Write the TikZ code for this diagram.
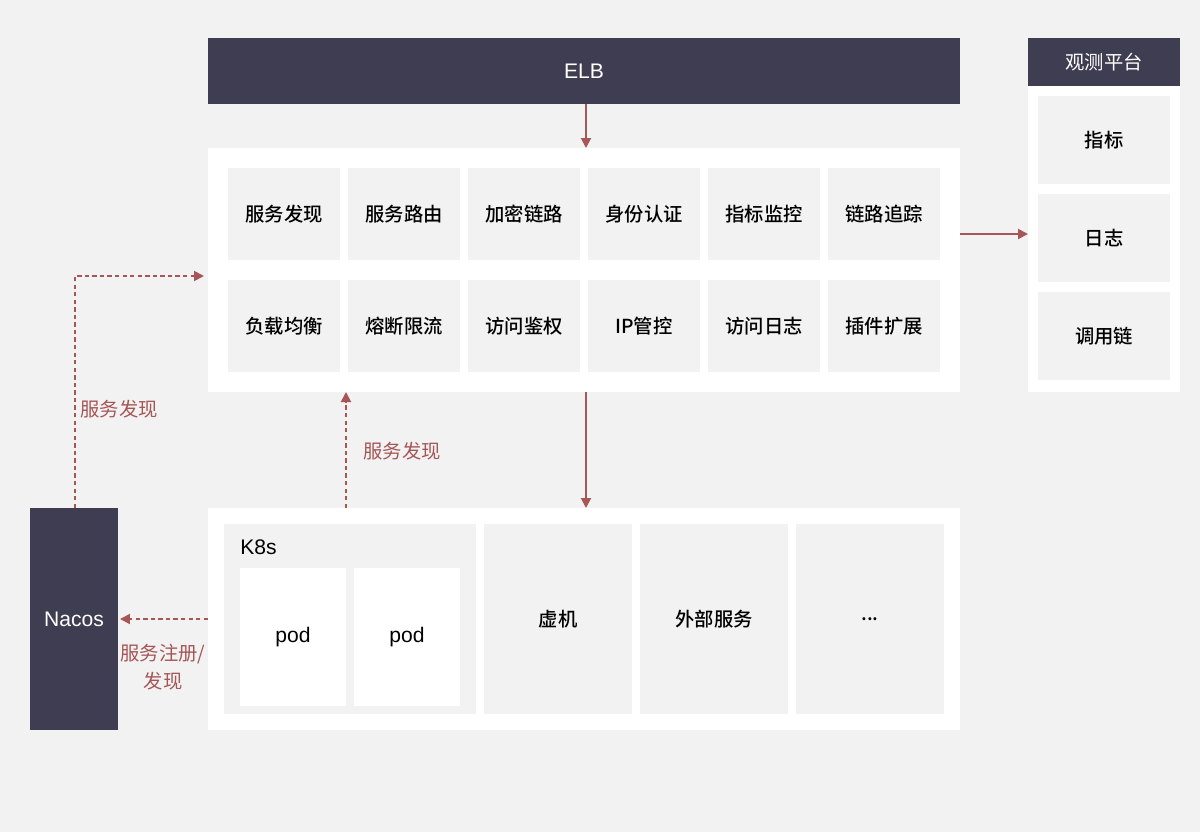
\documentclass[tikz,border=0pt]{standalone}
\usepackage{fontspec}
\setmainfont{Noto Sans CJK SC}[BoldFont={Noto Sans CJK SC Medium}]
\newfontfamily\latinfont{Liberation Sans}
\usetikzlibrary{calc,arrows.meta}
\definecolor{navy}{HTML}{3F3D51}
\definecolor{bggray}{HTML}{F2F2F2}
\definecolor{rust}{HTML}{A65656}
\def\px{0.02cm}

\begin{document}
\begin{tikzpicture}[x=\px,y=-\px,
  box/.style={inner sep=0pt,outer sep=0pt,minimum width=#1},
  white/.style={fill=white},
  dark/.style={fill=navy,text=white,font=\fontsize{11}{13}\selectfont},
  cell/.style={fill=bggray,text=black,font=\fontsize{11}{13}\selectfont\bfseries},
  latin/.style={font=\latinfont\fontsize{12}{14}\selectfont},
  lbl/.style={text=rust,font=\fontsize{11}{16}\selectfont,inner sep=0pt},
  solidarrow/.style={draw=rust,line width=1.1pt,-{Triangle[length=2mm,width=2mm]}},
  dasharrow/.style={draw=rust,line width=1.1pt,dash pattern=on 2.5pt off 1.8pt,-{Triangle[length=2mm,width=2mm]}}]

\fill[bggray] (0,0) rectangle (1200,832);
\useasboundingbox (0,0) rectangle (1200,832);

% gateway
\node[box=752*\px,minimum height=66*\px,dark,latin] (elb) at (584,71) {ELB};
\node[box=752*\px,minimum height=244*\px,white] (gw) at (584,270) {};

\node[box=112*\px,minimum height=92*\px,cell] (c11) at (284,214) {服务发现};
\node[box=112*\px,minimum height=92*\px,cell] (c12) at (404,214) {服务路由};
\node[box=112*\px,minimum height=92*\px,cell] (c13) at (524,214) {加密链路};
\node[box=112*\px,minimum height=92*\px,cell] (c14) at (644,214) {身份认证};
\node[box=112*\px,minimum height=92*\px,cell] (c15) at (764,214) {指标监控};
\node[box=112*\px,minimum height=92*\px,cell] (c16) at (884,214) {链路追踪};
\node[box=112*\px,minimum height=92*\px,cell] (c21) at (284,326) {负载均衡};
\node[box=112*\px,minimum height=92*\px,cell] (c22) at (404,326) {熔断限流};
\node[box=112*\px,minimum height=92*\px,cell] (c23) at (524,326) {访问鉴权};
\node[box=112*\px,minimum height=92*\px,cell] (c24) at (644,326) {IP管控};
\node[box=112*\px,minimum height=92*\px,cell] (c25) at (764,326) {访问日志};
\node[box=112*\px,minimum height=92*\px,cell] (c26) at (884,326) {插件扩展};

% backends
\node[box=752*\px,minimum height=222*\px,white] (back) at (584,619) {};
\node[box=252*\px,minimum height=190*\px,fill=bggray] (k8s) at (350,619) {};
\node[anchor=west,inner sep=0pt,latin] (k8slbl) at (240,547) {K8s};
\node[box=106*\px,minimum height=138*\px,white,latin] (pod1) at (293,637) {pod};
\node[box=106*\px,minimum height=138*\px,white,latin] (pod2) at (407,637) {pod};
\node[box=148*\px,minimum height=190*\px,cell] (vm) at (558,619) {虚机};
\node[box=148*\px,minimum height=190*\px,cell] (ext) at (714,619) {外部服务};
\node[box=148*\px,minimum height=190*\px,cell] (more) at (870,619) {...};

\node[box=88*\px,minimum height=222*\px,dark,latin] (nacos) at (74,619) {Nacos};

% observability
\node[box=152*\px,minimum height=48*\px,dark] (obshead) at (1104,62) {观测平台};
\node[box=152*\px,minimum height=306*\px,white] (obs) at (1104,239) {};
\node[box=132*\px,minimum height=88*\px,cell] (metric) at (1104,140) {指标};
\node[box=132*\px,minimum height=88*\px,cell] (log) at (1104,238) {日志};
\node[box=132*\px,minimum height=88*\px,cell] (trace) at (1104,336) {调用链};

% arrows
\draw[solidarrow] ($(elb.south)+(2,0)$) -- ($(gw.north)+(2,0)$);
\draw[solidarrow] ($(gw.south)+(2,0)$) -- ($(back.north)+(2,0)$);
\draw[solidarrow] ($(gw.east |- log)+(0,-4)$) -- ($(obs.west |- log)+(0,-4)$);

\draw[dasharrow,shorten >=4*\px] ($(nacos.north)+(1,0)$) |- ($(gw.west)+(0,6)$);
\draw[dasharrow] (pod1.east |- back.north) -- (pod1.east |- gw.south);
\draw[dasharrow,shorten >=2*\px] (back.west) -- (nacos.east);

\node[lbl,anchor=west] (sd1) at (80,409) {服务发现};
\node[lbl,anchor=west] (sd2) at (363,451) {服务发现};
\node[lbl,align=center] (reg) at (163,667) {服务注册/\\发现};

\end{tikzpicture}
\end{document}
